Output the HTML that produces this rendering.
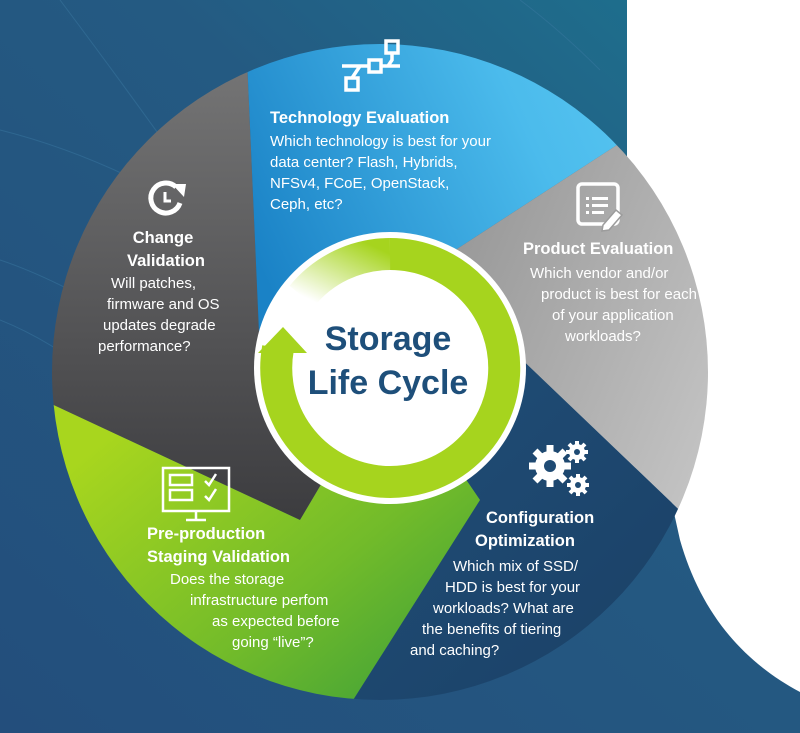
<!DOCTYPE html>
<html><head><meta charset="utf-8"><style>
html,body{margin:0;padding:0;width:800px;height:733px;overflow:hidden;background:#25507a}
svg{display:block}
text{font-family:"Liberation Sans",sans-serif;fill:#fff}
.t{font-weight:bold;font-size:16.5px}
.b{font-size:15px}
</style></head><body>
<svg width="800" height="733" viewBox="0 0 800 733" xmlns="http://www.w3.org/2000/svg">
<defs>
<linearGradient id="bg" x1="0" y1="1" x2="1" y2="0"><stop offset="0" stop-color="#234e7c"/><stop offset="0.6" stop-color="#245a82"/><stop offset="1" stop-color="#1c7590"/></linearGradient>
<linearGradient id="gGray" x1="0" y1="0" x2="0" y2="1"><stop offset="0" stop-color="#7e7e7e"/><stop offset="1" stop-color="#3c3c3f"/></linearGradient>
<linearGradient id="gBlue" x1="0" y1="0.6" x2="1" y2="0.2"><stop offset="0" stop-color="#1a82c6"/><stop offset="0.6" stop-color="#4bbbec"/><stop offset="1" stop-color="#5ecbf3"/></linearGradient>
<linearGradient id="gProd" x1="0" y1="0" x2="1" y2="0.6"><stop offset="0" stop-color="#8a8a8a"/><stop offset="1" stop-color="#c6c6c6"/></linearGradient>
<linearGradient id="gConf" x1="0" y1="0" x2="1" y2="1"><stop offset="0" stop-color="#21507a"/><stop offset="1" stop-color="#193d62"/></linearGradient>
<linearGradient id="gGreen" x1="0" y1="0" x2="1" y2="1"><stop offset="0.2" stop-color="#a8d61e"/><stop offset="0.6" stop-color="#72bb2a"/><stop offset="1" stop-color="#2a963e"/></linearGradient>
<linearGradient id="fade" x1="0" y1="1" x2="1" y2="0"><stop offset="0" stop-color="#ffffff"/><stop offset="1" stop-color="#a6d41e"/></linearGradient>
<clipPath id="cc"><circle cx="380" cy="372" r="328"/></clipPath>
</defs>
<rect width="800" height="733" fill="url(#bg)"/>
<g stroke="#3a77a0" stroke-width="1" fill="none" opacity="0.5">
<path d="M0 130 Q120 160 240 240"/><path d="M0 260 Q60 280 140 330"/><path d="M0 320 Q50 340 100 380"/><path d="M60 0 Q120 80 170 150"/><path d="M520 0 Q560 30 600 70"/>
</g>
<path d="M627 0 L800 0 L800 692 C740 660 700 610 680 540 L627 300 Z" fill="#ffffff"/>
<g clip-path="url(#cc)">
<polygon points="390,368 300,520 0,380 0,-10 244,-10 262,400" fill="url(#gGray)"/>
<polygon points="244,-10 720,-10 720,78 400,286 262,400" fill="url(#gBlue)"/>
<polygon points="720,78 760,78 760,600 740,568 470,310 400,286" fill="url(#gProd)"/>
<polygon points="470,310 740,568 760,600 760,760 315,760 480,500 390,368" fill="url(#gConf)"/>
<polygon points="390,368 480,500 315,760 0,760 0,380 300,520" fill="url(#gGreen)"/>
</g>
<circle cx="390" cy="368" r="136" fill="#ffffff"/>
<path d="M390 254 A114 114 0 1 1 278 348" fill="none" stroke="#a6d41e" stroke-width="32"/>
<path d="M302 296 A114 114 0 0 1 390 254" fill="none" stroke="url(#fade)" stroke-width="32"/>
<polygon points="258,353 307,353 283,327" fill="#a6d41e"/>
<text x="388" y="350" text-anchor="middle" style="font-weight:bold;font-size:34px;fill:#1e4f7a">Storage</text>
<text x="388" y="394" text-anchor="middle" style="font-weight:bold;font-size:34px;fill:#1e4f7a">Life Cycle</text>

<g stroke="#fff" stroke-width="3.5" fill="none">
<rect x="386" y="41" width="12" height="12"/><rect x="369" y="60" width="12" height="12"/><rect x="346" y="78" width="12" height="12"/>
<path d="M342 66 H369 M381 66 H400 M392 53 V60 L388 66 M352 78 L360 66"/>
</g>
<text class="t" x="270" y="123">Technology Evaluation</text>
<text class="b" x="270" y="146">Which technology is best for your</text>
<text class="b" x="270" y="167">data center? Flash, Hybrids,</text>
<text class="b" x="270" y="188">NFSv4, FCoE, OpenStack,</text>
<text class="b" x="270" y="209">Ceph, etc?</text>

<path d="M176 187 A15 15 0 1 0 180 203" fill="none" stroke="#fff" stroke-width="5"/>
<polygon points="172,184 186,184 184,197" fill="#fff"/>
<path d="M165 192 V201 H171" fill="none" stroke="#fff" stroke-width="3"/>
<text class="t" x="163" y="243" text-anchor="middle">Change</text>
<text class="t" x="166" y="266" text-anchor="middle">Validation</text>
<text class="b" x="111" y="288">Will patches,</text>
<text class="b" x="107" y="309">firmware and OS</text>
<text class="b" x="103" y="330">updates degrade</text>
<text class="b" x="98" y="351">performance?</text>

<rect x="578" y="184" width="40" height="40" rx="4" fill="none" stroke="#fff" stroke-width="3.5"/>
<g fill="#fff"><rect x="586" y="197" width="3" height="3"/><rect x="592" y="197" width="16" height="3"/><rect x="586" y="204" width="3" height="3"/><rect x="592" y="204" width="16" height="3"/><rect x="586" y="211" width="3" height="3"/><rect x="592" y="211" width="12" height="3"/></g>
<path d="M603 225 L616 210 L622 215 L609 230 L602 231 Z" fill="#fff" stroke="#9c9c9c" stroke-width="1.5"/>
<text class="t" x="523" y="254">Product Evaluation</text>
<text class="b" x="530" y="278">Which vendor and/or</text>
<text class="b" x="541" y="299">product is best for each</text>
<text class="b" x="552" y="320">of your application</text>
<text class="b" x="565" y="341">workloads?</text>

<g fill="#fff">
<circle cx="550" cy="466" r="15"/>
<g stroke="#fff" stroke-width="7"><path d="M550 445 V487 M529 466 H571 M535 451 L565 481 M565 451 L535 481"/></g>
<circle cx="577" cy="452" r="8"/><g stroke="#fff" stroke-width="4"><path d="M577 441 V463 M566 452 H588 M569 444 L585 460 M585 444 L569 460"/></g>
<circle cx="578" cy="485" r="8"/><g stroke="#fff" stroke-width="4"><path d="M578 474 V496 M567 485 H589 M570 477 L586 493 M586 477 L570 493"/></g>
</g>
<circle cx="550" cy="466" r="6" fill="#1f4b74"/><circle cx="577" cy="452" r="3" fill="#1f4b74"/><circle cx="578" cy="485" r="3" fill="#1f4b74"/>
<text class="t" x="486" y="523">Configuration</text>
<text class="t" x="475" y="546">Optimization</text>
<text class="b" x="453" y="571">Which mix of SSD/</text>
<text class="b" x="445" y="592">HDD is best for your</text>
<text class="b" x="433" y="613">workloads? What are</text>
<text class="b" x="422" y="634">the benefits of tiering</text>
<text class="b" x="410" y="655">and caching?</text>

<g fill="none" stroke="#fff" stroke-width="2.5">
<rect x="163" y="468" width="66" height="43"/>
<rect x="170" y="475" width="22" height="10"/><rect x="170" y="490" width="22" height="10"/>
<path d="M205 481 L209 485 L216 474 M205 496 L209 500 L216 489 M196 511 V520 M186 520 H206"/>
</g>
<text class="t" x="147" y="539">Pre-production</text>
<text class="t" x="147" y="562">Staging Validation</text>
<text class="b" x="170" y="584">Does the storage</text>
<text class="b" x="190" y="605">infrastructure perfom</text>
<text class="b" x="212" y="626">as expected before</text>
<text class="b" x="232" y="647">going “live”?</text>
</svg>
</body></html>
